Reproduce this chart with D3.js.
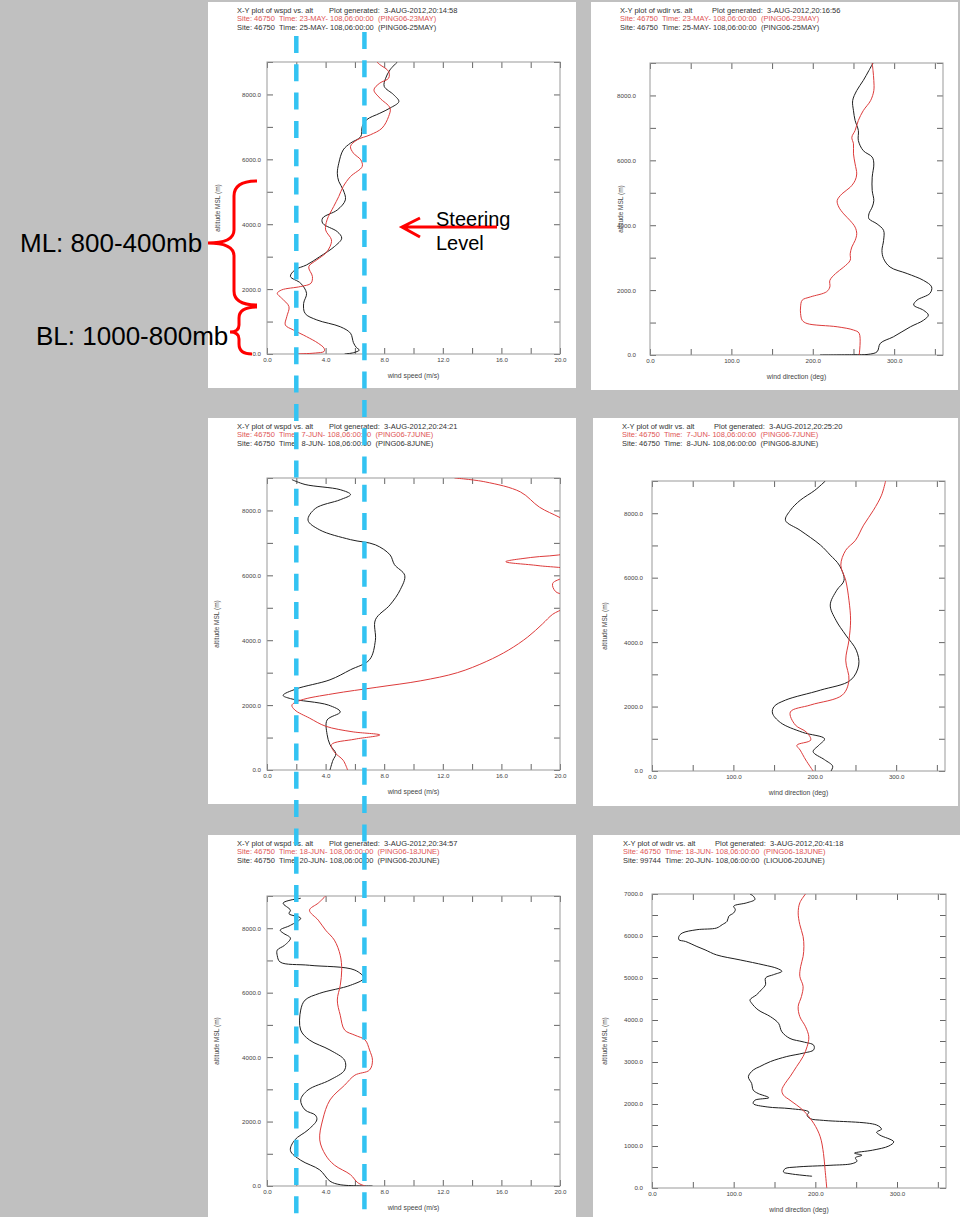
<!DOCTYPE html>
<html>
<head>
<meta charset="utf-8">
<script src="https://cdn.jsdelivr.net/npm/d3@7/dist/d3.min.js"></script>
<style>
  body { margin: 0; background: #c0c0c0; }
  svg { display: block; }
  text { font-family: "Liberation Sans", Arial, Helvetica, sans-serif; }
</style>
</head>
<body>
<svg id="chart" width="960" height="1217"></svg>
<script>
// ---- data: [altitude (m), value] pairs ----
const may23Wspd = [[0,1.9],[30,3.3],[80,3.9],[175,3.9],[330,3.5],[535,2.7],[740,1.8],[895,1.25],[1150,1.35],[1460,1.5],[1720,1.0],[1870,0.7],[1975,1.0],[2080,2.3],[2180,3.0],[2390,3.1],[2690,2.85],[2900,3.4],[3105,4.0],[3310,4.3],[3520,4.4],[3825,4.0],[4135,4.1],[4545,4.55],[4855,4.9],[5160,5.2],[5470,5.7],[5780,6.5],[5985,6.4],[6190,5.9],[6400,5.7],[6600,6.15],[6755,7.05],[6960,7.85],[7320,8.3],[7580,8.4],[7890,7.7],[8140,7.3],[8350,7.7],[8500,8.3],[8710,8.3],[8920,7.7],[9000,7.5]];
const may25Wspd = [[0,5.3],[40,5.9],[120,6.3],[200,6.1],[350,5.9],[640,5.7],[840,5.0],[1050,3.4],[1250,2.6],[1560,2.5],[1870,2.7],[2180,2.3],[2390,1.6],[2590,1.9],[2745,2.7],[3000,3.6],[3310,4.6],[3570,5.1],[3770,4.8],[4030,3.8],[4190,3.8],[4440,4.8],[4750,5.35],[5060,5.2],[5320,4.9],[5570,4.8],[5880,4.9],[6290,5.2],[6500,5.7],[6700,6.4],[7010,6.5],[7220,6.8],[7420,7.7],[7580,8.4],[7780,9.0],[7990,8.65],[8250,8.0],[8500,8.1],[8760,8.4],[9000,8.9]];
const may23Wdir = [[0,257],[670,257],[770,250],[870,230],[970,193],[1070,187],[1280,185],[1480,185],[1690,187],[1790,197],[1950,217],[2100,221],[2300,221],[2510,228],[2710,238],[2920,246],[3120,246],[3330,248],[3530,252],[3740,254],[3940,252],[4140,246],[4350,238],[4560,232],[4760,230],[4970,236],[5170,246],[5380,252],[5580,254],[5890,252],[6200,250],[6510,250],[6710,248],[6920,252],[7230,256],[7530,262],[7840,271],[8150,275],[8460,275],[8770,274],[9000,273]];
const may25Wdir = [[0,209],[8,250],[20,268],[100,279],[360,283],[560,299],[870,320],[1070,336],[1230,342],[1380,336],[1540,324],[1690,328],[1900,344],[2100,346],[2300,336],[2510,316],[2710,295],[2970,287],[3220,285],[3530,287],[3840,287],[4040,279],[4200,269],[4350,269],[4560,273],[4760,275],[5070,273],[5480,273],[5890,275],[6100,273],[6300,262],[6610,256],[6920,256],[7230,252],[7530,250],[7840,249],[8150,254],[8460,262],[8770,269],[9000,274]];

const jun7Wspd = [[0,5.5],[300,5.2],[550,4.6],[780,4.4],[950,6.0],[1080,7.7],[1180,5.8],[1350,4.0],[1600,2.9],[1850,1.9],[2000,1.7],[2150,2.3],[2350,4.5],[2550,7.5],[2750,10.5],[3000,13.0],[3350,15.0],[3700,16.5],[4100,17.8],[4500,18.8],[4800,19.5],[5000,20.3],[5300,20.8],[5500,19.7],[5750,19.5],[5950,20.3],[6150,20.8],[6300,18.5],[6420,16.3],[6550,18.0],[6680,20.5],[7000,22.0],[7400,21.5],[7780,20.0],[8100,18.6],[8570,17.3],[8880,14.9],[9000,12.8]];
const jun8Wspd = [[0,4.3],[300,4.5],[500,4.7],[780,4.3],[1100,4.1],[1540,4.1],[1790,5.0],[2000,4.2],[2200,1.6],[2300,1.1],[2500,2.0],[2780,4.3],[3090,5.7],[3400,7.0],[4000,7.4],[4630,7.4],[5090,8.4],[5560,9.1],[6000,9.4],[6330,8.7],[6630,8.4],[6940,7.4],[7100,5.7],[7400,3.6],[7700,2.8],[8060,3.3],[8330,5.0],[8490,5.7],[8640,5.0],[8800,2.6],[8950,1.7]];
const jun7Wdir = [[0,198],[340,189],[650,182],[800,178],[960,195],[1200,190],[1430,176],[1830,170],[2050,195],[2360,234],[2820,242],[3440,238],[4060,242],[4680,244],[5300,242],[5920,238],[6390,232],[6850,238],[7160,250],[7630,260],[8090,272],[8560,282],[9000,287]];
const jun8Wdir = [[0,220],[150,222],[350,212],[600,198],[800,205],[1000,212],[1200,185],[1500,158],[1800,148],[2000,150],[2200,164],[2510,207],[2820,244],[3290,254],[3750,251],[4220,238],[4680,226],[5150,219],[5610,227],[5920,236],[6390,230],[6700,219],[7010,207],[7470,182],[7780,164],[8090,170],[8400,182],[8710,200],[9000,213]];

const jun18Wspd = [[0,6.7],[100,6.2],[350,5.7],[650,4.6],[960,4.0],[1430,3.6],[2050,3.8],[2670,4.3],[3130,5.3],[3440,6.0],[3600,7.0],[3900,7.2],[4220,7.0],[4530,6.7],[4680,6.0],[4840,5.3],[5300,5.0],[5770,4.8],[6230,5.0],[6700,5.1],[7160,5.0],[7630,4.6],[7940,4.0],[8250,3.5],[8560,2.9],[8780,3.5],[9000,4.0]];
const jun20Wspd = [[0,7.2],[40,5.0],[150,4.3],[500,3.6],[800,2.3],[1100,1.6],[1430,1.9],[1740,2.8],[2050,3.4],[2200,3.3],[2360,2.6],[2670,2.3],[2980,2.8],[3290,4.3],[3600,5.3],[3900,5.3],[4220,4.3],[4530,2.9],[4840,2.3],[5460,2.3],[5770,2.6],[5980,3.6],[6230,5.7],[6450,6.6],[6700,6.0],[6850,2.9],[6950,0.9],[7150,0.7],[7320,0.7],[7470,1.2],[7690,1.6],[7850,1.1],[7940,0.9],[8090,1.6],[8310,2.3],[8450,1.5],[8560,1.6],[8780,1.1],[8930,2.3]];
const jun18Wdir = [[0,214],[420,212],[820,210],[1220,206],[1540,198],[1850,185],[2090,169],[2210,161],[2330,159],[2490,163],[2650,169],[2890,177],[3130,185],[3370,190],[3600,192],[3840,188],[4080,181],[4320,179],[4560,183],[4800,185],[5040,181],[5270,182],[5510,185],[5750,186],[5990,185],[6270,181],[6550,179],[6790,181],[7000,188]];
const jun20Wdir = [[280,196],[340,169],[380,161],[460,163],[500,177],[540,218],[580,245],[640,251],[720,249],[780,257],[830,248],[900,270],[1000,290],[1100,296],[1260,279],[1330,275],[1400,281],[1500,275],[1610,210],[1650,194],[1730,190],[1810,192],[1890,169],[1930,141],[2010,124],[2090,126],[2150,143],[2250,130],[2330,124],[2490,122],[2650,118],[2810,124],[2890,132],[3010,145],[3130,165],[3210,185],[3290,198],[3400,198],[3480,185],[3560,169],[3720,159],[3920,155],[4080,145],[4240,130],[4400,122],[4480,120],[4600,128],[4720,134],[4840,139],[5000,139],[5080,149],[5160,159],[5230,153],[5310,137],[5430,108],[5550,79],[5670,65],[5750,55],[5870,41],[5910,33],[5990,33],[6070,37],[6150,55],[6190,79],[6270,86],[6350,92],[6470,94],[6550,100],[6630,102],[6710,100],[6790,116],[6870,126],[6950,124],[7000,120]];

// header texts
const plotTitles = ['X-Y plot of wspd vs. alt', 'X-Y plot of wdir vs. alt', 'X-Y plot of wspd vs. alt', 'X-Y plot of wdir vs. alt', 'X-Y plot of wspd vs. alt', 'X-Y plot of wdir vs. alt'];
const generatedAt = ['3-AUG-2012,20:14:58', '3-AUG-2012,20:16:56', '3-AUG-2012,20:24:21', '3-AUG-2012,20:25:20', '3-AUG-2012,20:34:57', '3-AUG-2012,20:41:18'];
const redSites = [
  'Site: 46750  Time: 23-MAY- 108,06:00:00  (PING06-23MAY)',
  'Site: 46750  Time: 23-MAY- 108,06:00:00  (PING06-23MAY)',
  'Site: 46750  Time:  7-JUN- 108,06:00:00  (PING06-7JUNE)',
  'Site: 46750  Time:  7-JUN- 108,06:00:00  (PING06-7JUNE)',
  'Site: 46750  Time: 18-JUN- 108,06:00:00  (PING06-18JUNE)',
  'Site: 46750  Time: 18-JUN- 108,06:00:00  (PING06-18JUNE)'];
const blackSites = [
  'Site: 46750  Time: 25-MAY- 108,06:00:00  (PING06-25MAY)',
  'Site: 46750  Time: 25-MAY- 108,06:00:00  (PING06-25MAY)',
  'Site: 46750  Time:  8-JUN- 108,06:00:00  (PING06-8JUNE)',
  'Site: 46750  Time:  8-JUN- 108,06:00:00  (PING06-8JUNE)',
  'Site: 46750  Time: 20-JUN- 108,06:00:00  (PING06-20JUNE)',
  'Site: 99744  Time: 20-JUN- 108,06:00:00  (LIOU06-20JUNE)'];

// reference speeds (m/s) marked by the dashed lines
const refSpeeds = [2.0, 6.65];

// ---- layout ----
const panels = [
  { box: [208, 2, 576, 388],   plot: [267, 62, 560, 354],   kind: 'wspd', ymax: 9000, red: may23Wspd, black: may25Wspd, text: 237, gap: 6,  ylab: 220 },
  { box: [591, 2, 958, 390],   plot: [650, 63, 943, 355],   kind: 'wdir', ymax: 9000, red: may23Wdir, black: may25Wdir, text: 620, gap: 14, ylab: 623 },
  { box: [208, 418, 576, 804], plot: [267, 478, 560, 770],  kind: 'wspd', ymax: 9000, red: jun7Wspd,  black: jun8Wspd,  text: 237, gap: 6,  ylab: 219 },
  { box: [593, 418, 958, 806], plot: [652, 481, 945, 771],  kind: 'wdir', ymax: 9000, red: jun7Wdir,  black: jun8Wdir,  text: 622, gap: 9,  ylab: 607 },
  { box: [208, 835, 576, 1217],plot: [267, 896, 560, 1186], kind: 'wspd', ymax: 9000, red: jun18Wspd, black: jun20Wspd, text: 237, gap: 6,  ylab: 219 },
  { box: [593, 835, 960, 1217],plot: [652, 894, 946, 1188], kind: 'wdir', ymax: 7000, red: jun18Wdir, black: jun20Wdir, text: 623, gap: 9,  ylab: 607 }
];

const svg = d3.select('#chart');
const fmt = d3.format('.1f');

panels.forEach((p, i) => {
  const [bx0, by0, bx1, by1] = p.box;
  const [x0, y0, x1, y1] = p.plot;
  const isSpd = p.kind === 'wspd';

  svg.append('rect')
    .attr('x', bx0).attr('y', by0)
    .attr('width', bx1 - bx0).attr('height', by1 - by0)
    .attr('fill', '#fff');

  // header (keep the double spaces of the original printout)
  const hd = svg.append('g').attr('font-size', 7.5);
  const head = (dx, dy, color, str) => hd.append('text')
    .attr('x', p.text + dx).attr('y', by0 + dy)
    .attr('fill', color)
    .attr('xml:space', 'preserve')
    .style('white-space', 'pre')
    .text(str);
  head(0, 11, '#333', plotTitles[i]);
  head(92, 11, '#333', 'Plot generated:  ' + generatedAt[i]);
  head(0, 19.3, '#e05555', redSites[i]);
  head(0, 27.6, '#333', blackSites[i]);

  const x = d3.scaleLinear().domain(isSpd ? [0, 20] : [0, 360]).range([x0, x1]);
  const y = d3.scaleLinear().domain([0, p.ymax]).range([y1, y0]);

  const xStep = isSpd ? 2 : 50, xLab = isSpd ? 4 : 100;
  const yStep = p.ymax === 7000 ? 500 : 1000, yLab = p.ymax === 7000 ? 1000 : 2000;
  const xTicks = d3.range(0, x.domain()[1] + 0.001, xStep);
  const yTicks = d3.range(0, p.ymax + 0.001, yStep);

  const axes = svg.append('g');

  const bottom = axes.append('g').attr('transform', `translate(0,${y1})`)
    .call(d3.axisBottom(x).tickValues(xTicks).tickSize(-6).tickPadding(4)
      .tickFormat(d => (Math.round(d) % xLab === 0 ? fmt(d) : '')));
  const top = axes.append('g').attr('transform', `translate(0,${y0})`)
    .call(d3.axisTop(x).tickValues(xTicks).tickSize(-6).tickFormat(''));
  const left = axes.append('g').attr('transform', `translate(${x0},0)`)
    .call(d3.axisLeft(y).tickValues(yTicks).tickSize(-6).tickPadding(p.gap)
      .tickFormat(d => (Math.round(d) % yLab === 0 ? fmt(d) : '')));
  const right = axes.append('g').attr('transform', `translate(${x1},0)`)
    .call(d3.axisRight(y).tickValues(yTicks).tickSize(-6).tickFormat(''));

  [bottom, top, left, right].forEach(g => {
    g.attr('font-size', 6.2).attr('font-family', '"Liberation Sans", Arial, sans-serif');
    g.select('.domain').remove();
    g.selectAll('line').attr('stroke', '#666');
    g.selectAll('text').attr('fill', '#444');
  });

  svg.append('rect')
    .attr('x', x0).attr('y', y0)
    .attr('width', x1 - x0).attr('height', y1 - y0)
    .attr('fill', 'none').attr('stroke', '#999').attr('stroke-width', 1);

  // axis titles
  svg.append('text')
    .attr('x', (x0 + x1) / 2).attr('y', y1 + 24)
    .attr('text-anchor', 'middle').attr('font-size', 6.8).attr('fill', '#444')
    .text(isSpd ? 'wind speed (m/s)' : 'wind direction (deg)');
  svg.append('text')
    .attr('transform', `translate(${p.ylab},${(y0 + y1) / 2}) rotate(-90)`)
    .attr('text-anchor', 'middle').attr('font-size', 6.5).attr('fill', '#444')
    .text('altitude MSL (m)');

  // profiles
  const clipId = 'clip' + i;
  svg.append('clipPath').attr('id', clipId)
    .append('rect').attr('x', x0).attr('y', y0).attr('width', x1 - x0).attr('height', y1 - y0);

  const line = d3.line()
    .x(d => x(d[1]))
    .y(d => y(d[0]))
    .curve(d3.curveCatmullRom.alpha(0.5));

  const g = svg.append('g').attr('clip-path', `url(#${clipId})`);
  g.append('path').datum(p.black)
    .attr('d', line).attr('fill', 'none').attr('stroke', '#1e1e1e').attr('stroke-width', 1);
  g.append('path').datum(p.red)
    .attr('d', line).attr('fill', 'none').attr('stroke', '#dd3b3b').attr('stroke-width', 1);
});

// ---- annotations ----
const spdX = d3.scaleLinear().domain([0, 20]).range([267, 560]);
const dashStart = [36, 32];
refSpeeds.forEach((s, i) => {
  svg.append('line')
    .attr('x1', spdX(s)).attr('x2', spdX(s))
    .attr('y1', dashStart[i]).attr('y2', 1217)
    .attr('stroke', '#33c3f2').attr('stroke-width', 4.5)
    .attr('stroke-dasharray', '17 11.3');
});

const ann = svg.append('g').attr('fill', 'none').attr('stroke', '#ff0000').attr('stroke-width', 3);
ann.append('path')
  .attr('d', 'M257,181 Q234,181 234,196 L234,230 Q234,243 208,243 Q234,243 234,256 L234,291 Q234,305 257,305');
ann.append('path')
  .attr('d', 'M257,307 Q239,307 239,318 L239,325 Q239,332 230,332 Q239,332 239,339 L239,344 Q239,354 252,354');

svg.append('text').attr('x', 20).attr('y', 252).attr('font-size', 26).attr('fill', '#000').text('ML: 800-400mb');
svg.append('text').attr('x', 36).attr('y', 345).attr('font-size', 26).attr('fill', '#000').text('BL: 1000-800mb');

svg.append('text').attr('x', 436).attr('y', 226).attr('font-size', 20).attr('fill', '#000').text('Steering');
svg.append('text').attr('x', 436).attr('y', 250).attr('font-size', 20).attr('fill', '#000').text('Level');

ann.append('path').attr('d', 'M497,227 L402,227 M420,218 L402,227 L420,237');
</script>
</body>
</html>
